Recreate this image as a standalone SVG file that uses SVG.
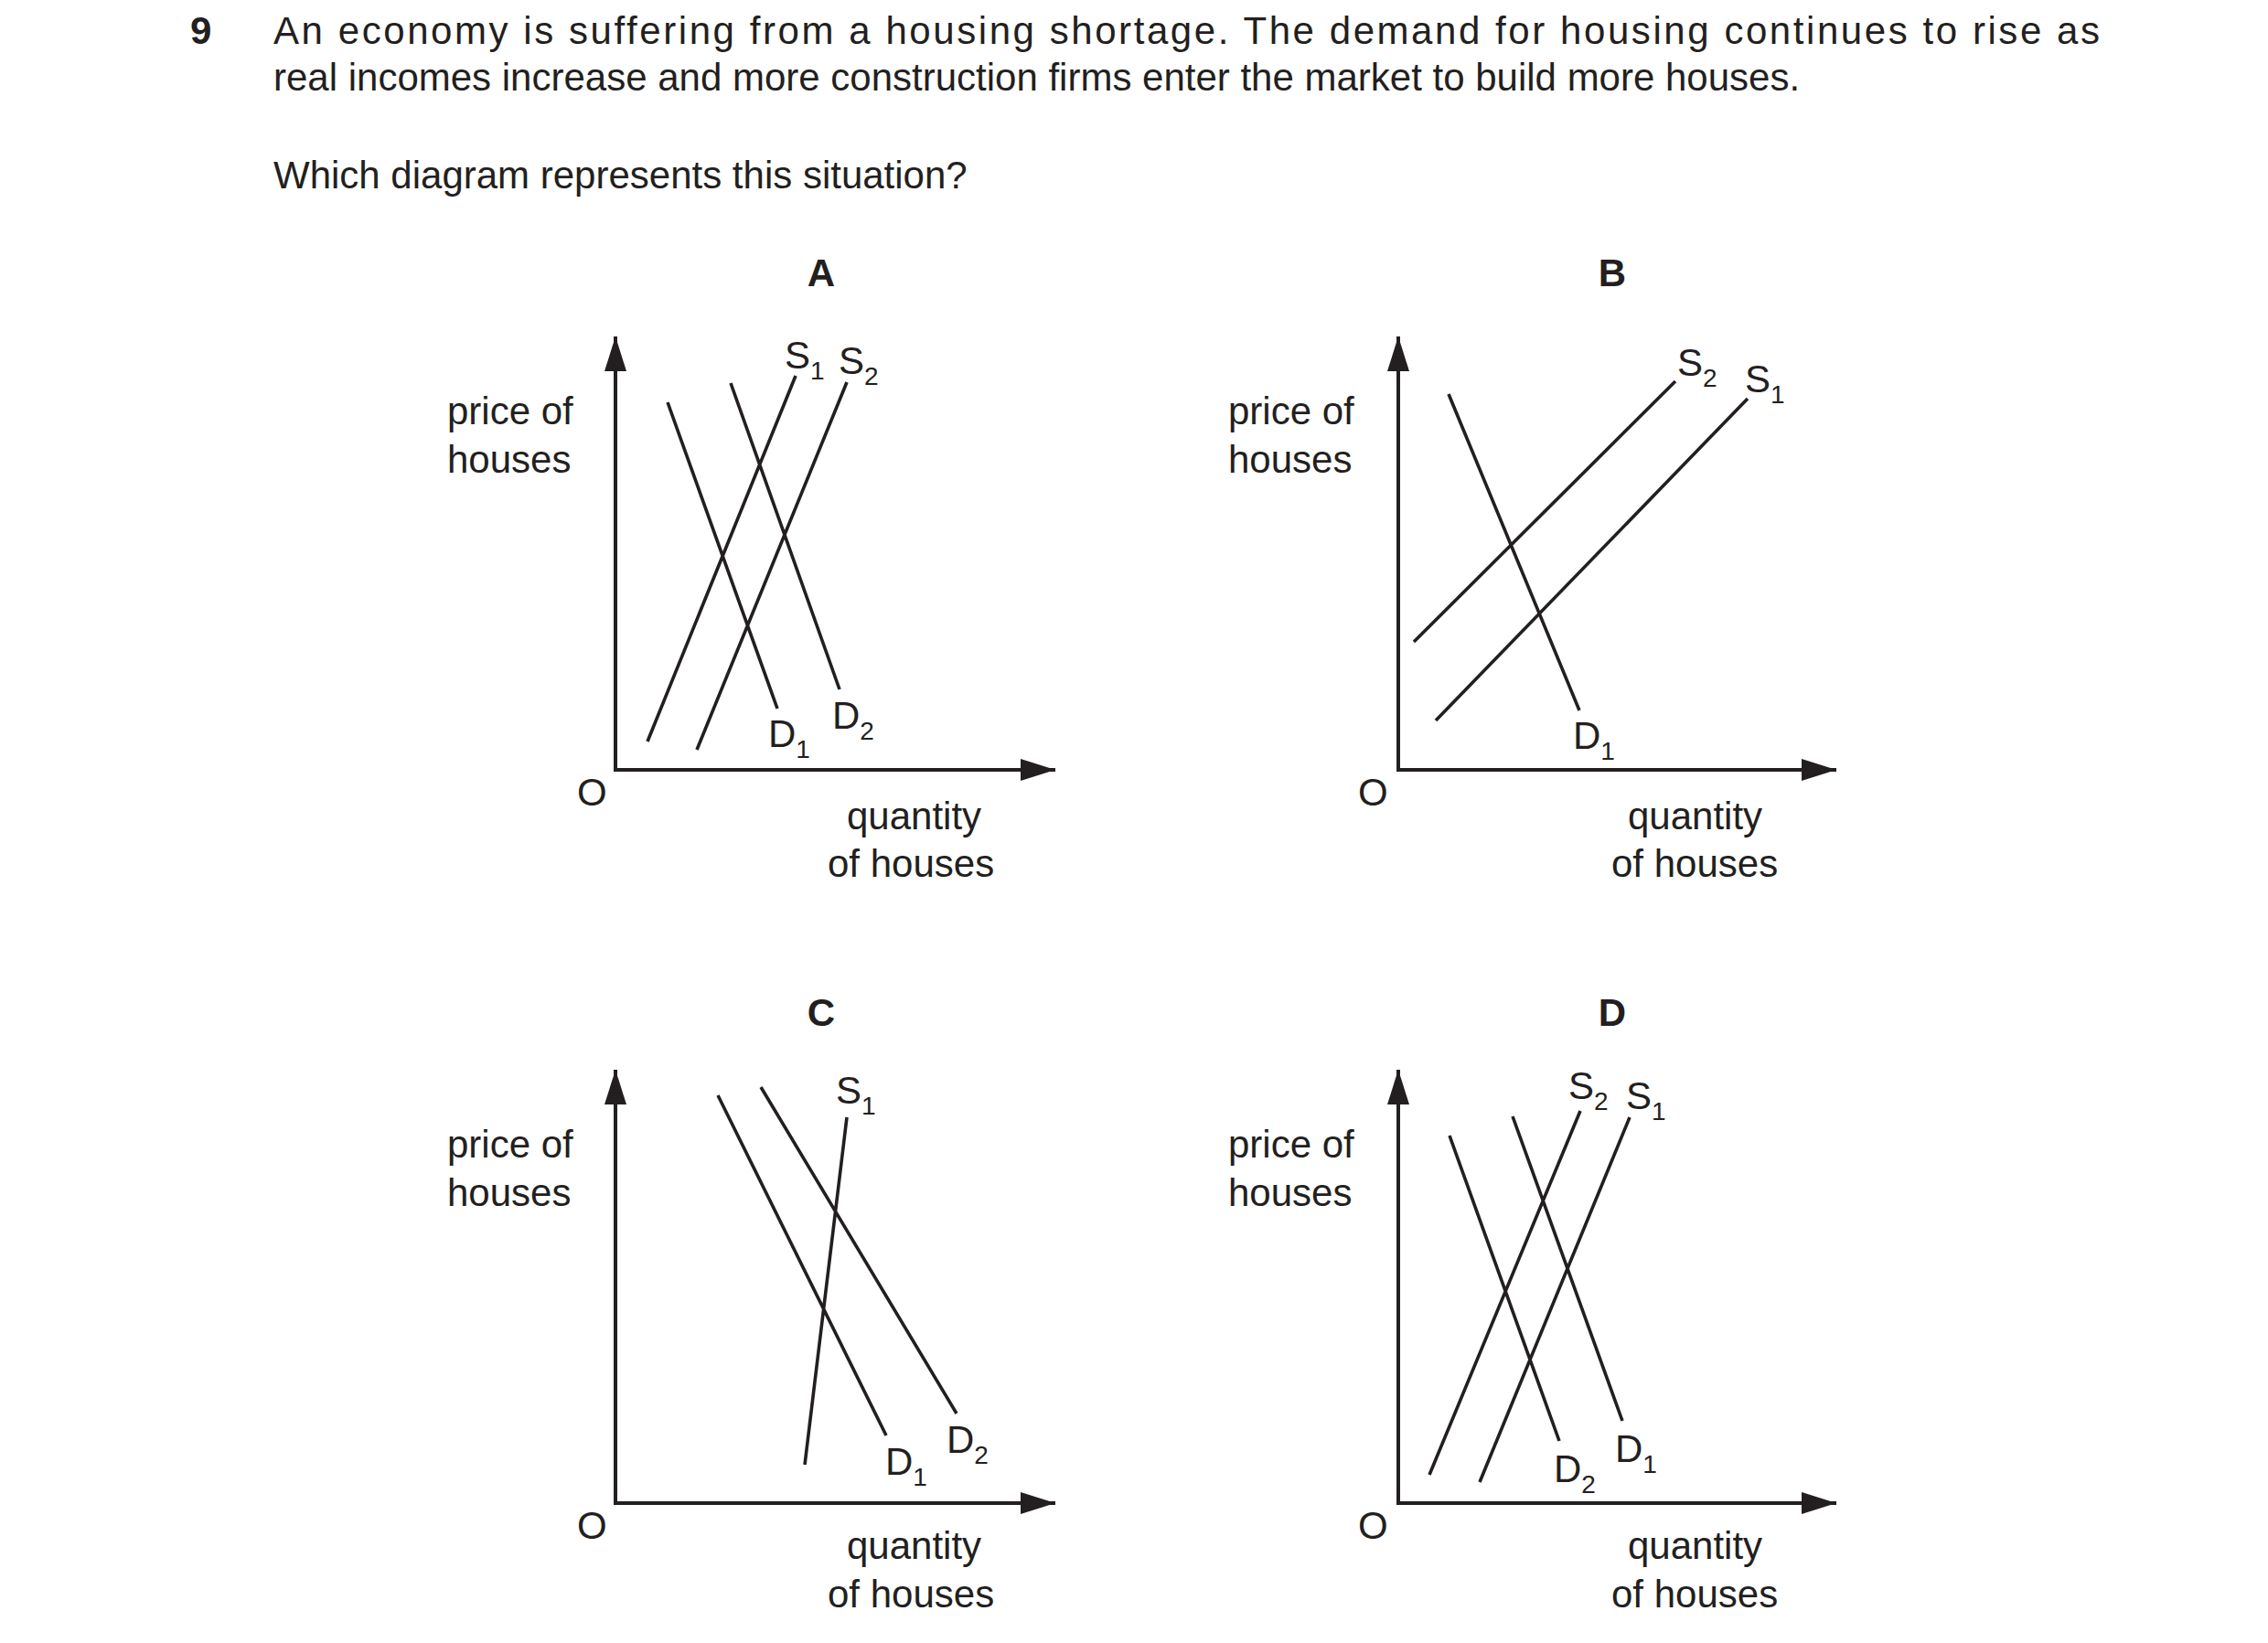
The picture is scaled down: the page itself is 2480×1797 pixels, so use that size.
<svg xmlns="http://www.w3.org/2000/svg" width="2480" height="1797" viewBox="0 0 2480 1797">
<defs>
<style>
text{font-family:"Liberation Sans",Arial,sans-serif;font-size:42px;fill:#231f20}
.b{font-weight:bold}
.sub{font-size:28px}
.ax{stroke:#231f20;stroke-width:4;fill:none}
.ln{stroke:#231f20;stroke-width:3.6;fill:none}
</style>
<marker id="ah" viewBox="0 0 10 10" refX="10" refY="5" markerWidth="38" markerHeight="24" markerUnits="userSpaceOnUse" orient="auto" preserveAspectRatio="none"><path d="M0,0L10,5L0,10z" fill="#231f20"/></marker>
</defs>
<rect width="2480" height="1797" fill="#fff"/>
<g id="question">
<text x="208" y="48" class="b">9</text>
<text x="299" y="48" textLength="1997" lengthAdjust="spacing">An economy is suffering from a housing shortage. The demand for housing continues to rise as</text>
<text x="299" y="99">real incomes increase and more construction firms enter the market to build more houses.</text>
<text x="299" y="206">Which diagram represents this situation?</text>
</g>
<g id="panelA">
<text x="898" y="313" class="b" text-anchor="middle">A</text>
<text x="489" y="464">price of</text><text x="489" y="517">houses</text>
<text x="631" y="881">O</text>
<text x="926" y="907">quantity</text><text x="905" y="959">of houses</text>
<text x="858" y="403">S<tspan class="sub" dy="12">1</tspan></text>
<text x="917" y="409">S<tspan class="sub" dy="12">2</tspan></text>
<text x="840" y="817">D<tspan class="sub" dy="12">1</tspan></text>
<text x="910" y="797">D<tspan class="sub" dy="12">2</tspan></text>
</g>
<g id="panelB">
<text x="1763" y="313" class="b" text-anchor="middle">B</text>
<text x="1343" y="464">price of</text><text x="1343" y="517">houses</text>
<text x="1485" y="881">O</text>
<text x="1780" y="907">quantity</text><text x="1762" y="959">of houses</text>
<text x="1834" y="411">S<tspan class="sub" dy="12">2</tspan></text>
<text x="1908" y="429">S<tspan class="sub" dy="12">1</tspan></text>
<text x="1720" y="819">D<tspan class="sub" dy="12">1</tspan></text>
</g>
<g id="panelC">
<text x="898" y="1122" class="b" text-anchor="middle">C</text>
<text x="489" y="1266">price of</text><text x="489" y="1319">houses</text>
<text x="631" y="1683">O</text>
<text x="926" y="1705">quantity</text><text x="905" y="1758">of houses</text>
<text x="914" y="1207">S<tspan class="sub" dy="12">1</tspan></text>
<text x="968" y="1613">D<tspan class="sub" dy="12">1</tspan></text>
<text x="1035" y="1589">D<tspan class="sub" dy="12">2</tspan></text>
</g>
<g id="panelD">
<text x="1763" y="1122" class="b" text-anchor="middle">D</text>
<text x="1343" y="1266">price of</text><text x="1343" y="1319">houses</text>
<text x="1485" y="1683">O</text>
<text x="1780" y="1705">quantity</text><text x="1762" y="1758">of houses</text>
<text x="1715" y="1202">S<tspan class="sub" dy="12">2</tspan></text>
<text x="1778" y="1213">S<tspan class="sub" dy="12">1</tspan></text>
<text x="1699" y="1621">D<tspan class="sub" dy="12">2</tspan></text>
<text x="1766" y="1599">D<tspan class="sub" dy="12">1</tspan></text>
</g>
<g id="connectors">
<path class="ax" d="M673,842V368" marker-end="url(#ah)"/><path class="ax" d="M671,842H1154" marker-end="url(#ah)"/>
<path class="ln" d="M730,440L850,775M799,419L918,754M708,811L870,411M762,820L926,418"/>
<path class="ax" d="M1529,842V368" marker-end="url(#ah)"/><path class="ax" d="M1527,842H2008" marker-end="url(#ah)"/>
<path class="ln" d="M1584,431L1727,777M1546,702L1832,417M1570,788L1911,436"/>
<path class="ax" d="M673,1644V1170" marker-end="url(#ah)"/><path class="ax" d="M671,1644H1154" marker-end="url(#ah)"/>
<path class="ln" d="M785,1198L969,1570M832,1189L1046,1546M880,1602L926,1222"/>
<path class="ax" d="M1529,1644V1170" marker-end="url(#ah)"/><path class="ax" d="M1527,1644H2008" marker-end="url(#ah)"/>
<path class="ln" d="M1585,1242L1705,1576M1654,1221L1774,1554M1563,1613L1728,1215M1618,1621L1782,1222"/>
</g>
</svg>
